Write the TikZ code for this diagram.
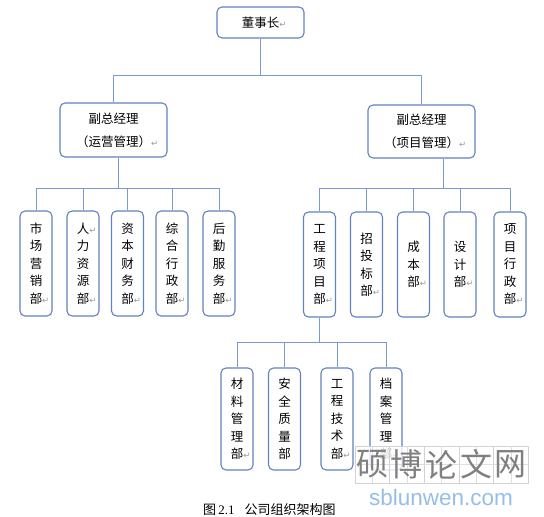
\documentclass[tikz,border=0pt]{standalone}
\usepackage{fontspec}
\setmainfont{Liberation Serif}
\newfontfamily\cjk{Noto Sans CJK SC}
\newfontfamily\symf{DejaVu Sans}
\definecolor{boxblue}{RGB}{98,130,192}
\definecolor{linkblue}{RGB}{122,152,212}
\definecolor{wmblue}{RGB}{150,190,232}
\newcommand{\ret}{\rlap{\symf\fontsize{8.5}{8.5}\selectfont\color{gray!80}↵}}
\tikzset{
  unit/.style={draw=boxblue, line width=1.1pt, rounded corners=5pt, fill=white,
    font=\cjk\fontsize{12.5}{17.5}\selectfont, align=center, inner sep=0pt},
  dept/.style={unit, minimum width=32pt, minimum height=105pt},
  link/.style={draw=linkblue, line width=1pt},
}
\begin{document}
\begin{tikzpicture}[x=1pt,y=-1pt,line join=round]
  \fill[white] (0,0) rectangle (544,517);
  \useasboundingbox (0,0) rectangle (544,517);
  % top levels
  \node[unit, minimum width=87pt, minimum height=31pt] (top) at (260.5,22.5) {董事长\ret};
  \node[unit, minimum width=107pt, minimum height=54pt, font=\cjk\fontsize{12.5}{23}\selectfont] (vpL) at (113.5,130) {副总经理\\（运营管理）\ret};
  \node[unit, minimum width=107pt, minimum height=53pt, font=\cjk\fontsize{12.5}{23}\selectfont] (vpR) at (421.5,131.5) {副总经理\\（项目管理）\ret};
  % departments under vpL
  \node[dept] (dL1) at (36,263.5) {市\\场\\营\\销\\部\ret};
  \node[dept] (dL2) at (83,263.5) {人\ret\\力\\资\\源\\部\ret};
  \node[dept] (dL3) at (127.5,263.5) {资\\本\\财\\务\\部\ret};
  \node[dept] (dL4) at (172,263.5) {综\\合\\行\\政\\部\ret};
  \node[dept] (dL5) at (219,263.5) {后\\勤\\服\\务\\部\ret};
  % departments under vpR
  \node[dept] (dR1) at (319.5,264.5) {工\\程\\项\\目\\部\ret};
  \node[dept] (dR2) at (366.5,264.5) {招\\投\\标\\部\ret};
  \node[dept] (dR3) at (413.5,264.5) {成\\本\\部\ret};
  \node[dept] (dR4) at (460,264.5) {设\\计\\部\ret};
  \node[dept] (dR5) at (510,264.5) {项\\目\\行\\政\\部\ret};
  % units under dR1
  \node[dept, minimum height=102pt] (dB1) at (237,419) {材\\料\\管\\理\\部\ret};
  \node[dept, minimum height=102pt] (dB2) at (284.5,419) {安\\全\\质\\量\\部};
  \node[dept, minimum height=102pt] (dB3) at (337,419) {工\\程\\技\\术\\部\ret};
  \node[dept, minimum height=102pt] (dB4) at (386,419) {档\\案\\管\\理\\部\ret};
  % connectors
  \draw[link] (top.south) -- ++(0,37) coordinate (busT) -| (vpL.north);
  \draw[link] (busT) -| (vpR.north);
  \draw[link] ([xshift=4.5pt]vpL.south) -- ++(0,31) coordinate (busL);
  \foreach \i in {1,...,5} \draw[link] (busL) -| (dL\i.north);
  \draw[link] ([xshift=21.5pt]vpR.south) -- ++(0,30) coordinate (busR);
  \foreach \i in {1,...,5} \draw[link] (busR) -| (dR\i.north);
  \draw[link] (dR1.south) -- ++(0,25) coordinate (busB);
  \foreach \i in {1,...,4} \draw[link] (busB) -| (dB\i.north);
  % caption
  \node[anchor=west, inner sep=0pt, font=\fontsize{13}{13}\selectfont] (cap) at (203,510)
    {{\cjk 图}\,2.1\hspace{10pt}{\cjk 公司组织架构图}};
  % watermark
  \foreach \c [count=\k from 0] in {硕,博,论,文,网}{
    \path (355+\k*34.6,446) coordinate (wm\k);
    \fill[white, fill opacity=0.8] (wm\k) rectangle ++(34.6,37);
    \draw[gray!35, line width=0.4pt] (wm\k) rectangle ++(34.6,37);
    \draw[gray!25, line width=0.3pt] ([xshift=17.3pt]wm\k) -- ++(0,37);
    \draw[gray!25, line width=0.3pt] ([yshift=-18.5pt]wm\k) -- ++(34.6,0);
    \node[text=gray, font=\cjk\fontsize{32}{32}\selectfont, inner sep=0pt]
      (wmc\k) at ([xshift=17.3pt,yshift=-18.5pt]wm\k) {\c};
  }
  \node[text=wmblue, font=\fontspec{Liberation Sans}\fontsize{22.5}{22.5}\selectfont, inner sep=0pt]
    (wmurl) at (441,497) {sblunwen.com};
\end{tikzpicture}
\end{document}
